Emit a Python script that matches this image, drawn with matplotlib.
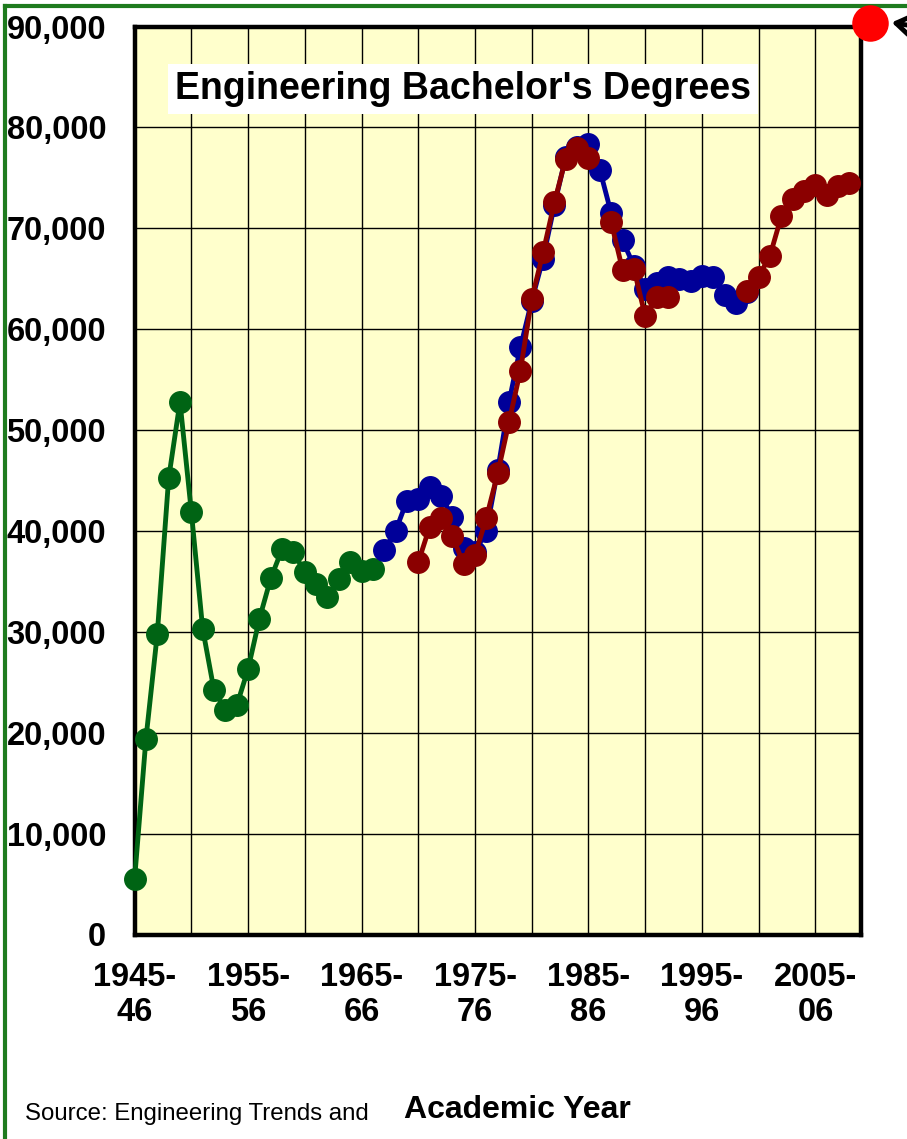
import numpy as np
import matplotlib
matplotlib.use("Agg")
import matplotlib.pyplot as plt
from matplotlib.lines import Line2D

plt.rcParams['font.family'] = ['Liberation Sans', 'DejaVu Sans']

# ---------------- data ----------------
green_years = list(range(1945, 1967))
green_vals = [5500, 19400, 29800, 45200, 52800, 41900, 30300, 24200, 22300, 22700,
              26300, 31300, 35300, 38200, 37900, 35900, 34700, 33500, 35200, 36900,
              36000, 36200]

blue_years = list(range(1967, 2000))
blue_vals = [38100, 40000, 43000, 43200, 44400, 43500, 41400, 38300, 37900, 40000,
             46000, 52800, 58200, 62800, 67000, 72300, 77100, 78100, 78400, 75800,
             71500, 68800, 66300, 64000, 64600, 65200, 65000, 64800, 65300, 65200,
             63400, 62600, 63700]

red_years = list(range(1970, 2009))
red_vals = [36900, 40400, 41300, 39500, 36700, 37600, 41300, 45700, 50800, 55900,
            63000, 67600, 72600, 76900, 78000, 77000, np.nan, 70600, 65900, 66000,
            61300, 63200, 63200, np.nan, np.nan, np.nan, np.nan, np.nan, np.nan,
            63800, 65200, 67300, 71200, 72900, 73700, 74300, 73300, 74200, 74500]

tick_years = [1945, 1955, 1965, 1975, 1985, 1995, 2005]
tick_labels = ["1945-\n46", "1955-\n56", "1965-\n66", "1975-\n76",
               "1985-\n86", "1995-\n96", "2005-\n06"]
y_ticks = list(range(0, 90001, 10000))

# ---------------- figure ----------------
W, H = 907, 1139
fig = plt.figure(figsize=(W / 100, H / 100), dpi=100)
fig.patch.set_facecolor('white')

ax = fig.add_axes([134.6 / W, 1 - 934.5 / H, (860.8 - 134.6) / W, (934.5 - 26.5) / H])
ax.set_facecolor('#FFFFCC')
ax.set_xlim(1945, 2009)
ax.set_ylim(0, 90000)

ax.set_xticks(list(range(1945, 2010, 5)))
ax.set_xticklabels([tick_labels[tick_years.index(y)] if y in tick_years else ''
                    for y in range(1945, 2010, 5)],
                   fontsize=23.5, fontweight='bold', linespacing=1.2)
ax.set_yticks(y_ticks)
ax.set_yticklabels([f"{v:,}" for v in y_ticks], fontsize=23.5, fontweight='bold')
ax.tick_params(axis='both', length=0)
ax.tick_params(axis='x', pad=19.5)
ax.tick_params(axis='y', pad=20.5)
ax.grid(True, color='black', linewidth=1.0)
ax.set_axisbelow(True)
for s in ax.spines.values():
    s.set_linewidth(3.2)
    s.set_color('black')

ms = 15.5
lw = 3.5
ax.plot(green_years, green_vals, color='#006414', lw=lw, marker='o', ms=ms,
        clip_on=False, zorder=3)
ax.plot(blue_years, blue_vals, color='#000099', lw=lw, marker='o', ms=ms,
        clip_on=False, zorder=4)
ax.plot(red_years, red_vals, color='#8B0000', lw=lw, marker='o', ms=ms,
        clip_on=False, zorder=5)

# title box
fig.text(463 / W, 1 - 89 / H, "Engineering Bachelor's Degrees", fontsize=27,
         fontweight='bold', ha='center', va='center',
         bbox=dict(facecolor='white', edgecolor='none', pad=5), zorder=10)

# axis title and source
fig.text(517 / W, 1 - 1110 / H, "Academic Year", fontsize=23, fontweight='bold',
         ha='center', va='center')
fig.text(25 / W, 1 - 1114 / H, "Source: Engineering Trends and", fontsize=17.3,
         ha='left', va='center')

# green frame
fig.add_artist(Line2D([5 / W, 5 / W], [1 - 6 / H, 0], transform=fig.transFigure,
                      color='#1E7B1E', lw=3.0))
fig.add_artist(Line2D([5 / W, 1], [1 - 6 / H, 1 - 6 / H], transform=fig.transFigure,
                      color='#1E7B1E', lw=3.0))

# red dot with arrow
fig.add_artist(Line2D([870 / W], [1 - 23.4 / H], transform=fig.transFigure,
                      marker='o', ms=26.3, color='#FF0000', mec='none', zorder=20))
ax.annotate('', xy=(889 / W, 1 - 22 / H), xycoords='figure fraction',
            xytext=(960 / W, 1 - 34 / H), textcoords='figure fraction',
            arrowprops=dict(arrowstyle='->, head_length=0.6, head_width=0.4',
                            color='black', lw=3.5, mutation_scale=25),
            annotation_clip=False)

fig.savefig('out.png', dpi=100, facecolor='white')
